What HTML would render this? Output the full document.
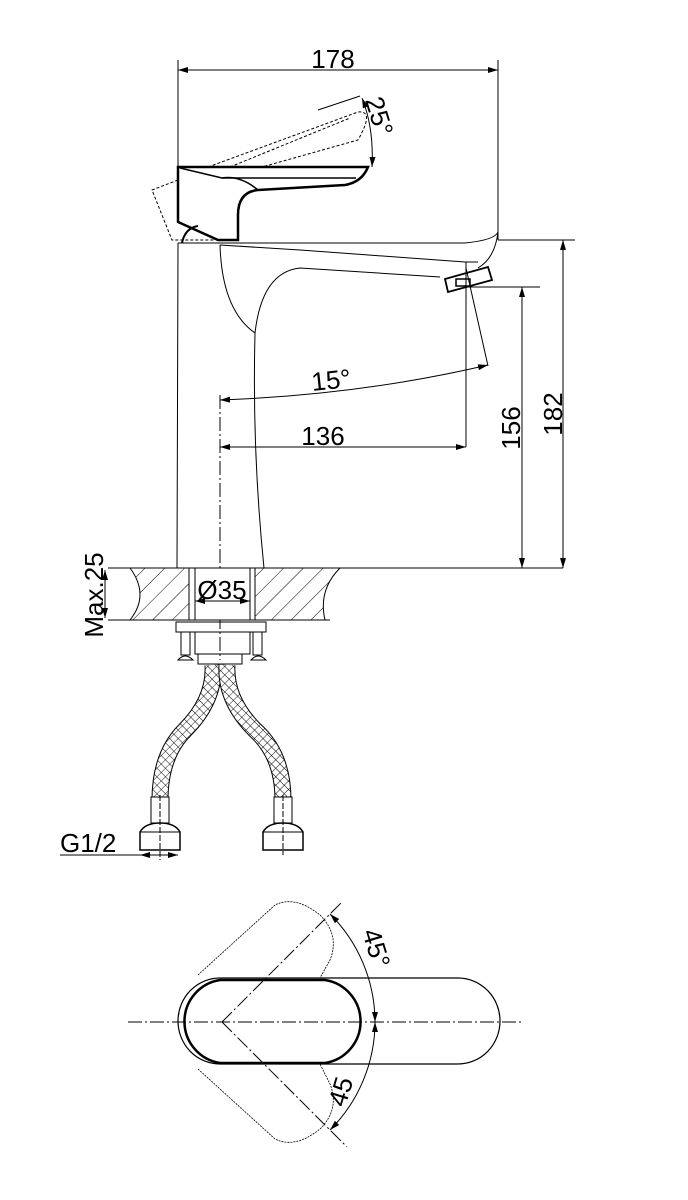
<!DOCTYPE html>
<html><head><meta charset="utf-8"><style>html,body{margin:0;padding:0;background:#fff}svg{display:block}</style></head>
<body>
<svg width="688" height="1200" viewBox="0 0 688 1200" xmlns="http://www.w3.org/2000/svg" font-family="Liberation Sans, sans-serif">
<defs>
<marker id="a" viewBox="0 0 10 6" refX="10" refY="3" markerWidth="10" markerHeight="6" orient="auto-start-reverse" markerUnits="userSpaceOnUse"><path d="M0,0 L10,3 L0,6 z" fill="#000"/></marker>
<pattern id="hatch" width="14" height="14" patternUnits="userSpaceOnUse" patternTransform="rotate(45)"><line x1="0" y1="0" x2="0" y2="14" stroke="#000" stroke-width="1"/></pattern>
<pattern id="mesh" width="6" height="6" patternUnits="userSpaceOnUse" patternTransform="rotate(45)"><rect width="6" height="6" fill="#fff"/><path d="M0,0 H6 M0,0 V6" stroke="#000" stroke-width="0.9"/></pattern>
</defs>
<g fill="none" stroke="#000" stroke-width="1">
<line x1="178" y1="60" x2="178" y2="167"/><line x1="498" y1="60" x2="498" y2="240"/>
<line x1="178" y1="70" x2="498" y2="70" marker-start="url(#a)" marker-end="url(#a)"/>
<g stroke-dasharray="3,2">
<path d="M208,167 L358,112 Q375,110 358,140 L262,167"/>
<path d="M230,167 L350,118"/>
<path d="M178,180 L152,190 L172,240 L215,240"/>
</g>
<line x1="318" y1="110" x2="360" y2="96"/>
<path d="M362,98 Q374,128 372,167" marker-start="url(#a)" marker-end="url(#a)"/>
<path d="M178,167 L368,167 Q362,182 345,185 L258,190 Q238,192 238,215 L238,240 L218,240 L178,222 Z" stroke-width="2.5"/>
<path d="M180,168 L222,178 L356,178" stroke-width="1.5"/>
<path d="M222,178 Q240,175 258,190" stroke-width="1.5"/>
<path d="M182,243 Q185,228 198,226" stroke-width="2"/>
<path d="M178,243 L465,243 Q495,240 498,232 Q495,258 478,268"/>
<path d="M220,245 L300,250 L465,262 L478,262"/>
<path d="M178,243 L177,568"/>
<path d="M220,245 Q222,310 255,333 Q252,450 264,568"/>
<path d="M255,333 Q262,272 300,268 L440,277"/>
<path d="M445,279 L488,267 L492,280 L448,292 Z" stroke-width="1.8"/>
<rect x="456" y="279" width="14" height="7" stroke-width="1.5"/>
<line x1="466" y1="262" x2="466" y2="447"/>
<line x1="466" y1="287" x2="540" y2="287"/>
<line x1="466" y1="268" x2="488" y2="366"/>
<line x1="498" y1="240" x2="575" y2="240"/>
<path d="M220,400 Q360,395 488,365" marker-start="url(#a)" marker-end="url(#a)"/>
<line x1="220" y1="447" x2="466" y2="447" marker-start="url(#a)" marker-end="url(#a)"/>
<line x1="220" y1="395" x2="220" y2="660" stroke-dasharray="14,3,2,3"/>
<line x1="522" y1="287" x2="522" y2="568" marker-start="url(#a)" marker-end="url(#a)"/>
<line x1="563" y1="240" x2="563" y2="568" marker-start="url(#a)" marker-end="url(#a)"/>
<path d="M130,568 L340,568 Q318,590 325,620 L130,620 Q150,595 130,568 Z" fill="url(#hatch)"/>
<rect x="189" y="568" width="66" height="52" fill="#fff"/>
<line x1="189" y1="568" x2="189" y2="620"/><line x1="255" y1="568" x2="255" y2="620"/>
<line x1="195" y1="568" x2="195" y2="620"/><line x1="250" y1="568" x2="250" y2="620"/>
<line x1="108" y1="568" x2="563" y2="568"/>
<line x1="108" y1="620" x2="330" y2="620"/>
<line x1="105" y1="570" x2="105" y2="618" marker-start="url(#a)" marker-end="url(#a)"/>
<line x1="195" y1="601" x2="250" y2="601" marker-start="url(#a)" marker-end="url(#a)"/>
<rect x="176" y="622" width="90" height="10"/>
<rect x="181" y="632" width="9" height="23"/><rect x="253" y="632" width="9" height="23"/>
<path d="M178,660 Q185,652 193,660 Z"/><path d="M251,660 Q258,652 266,660 Z"/>
<rect x="195" y="632" width="55" height="22"/>
<rect x="198" y="654" width="44" height="10"/>
<path d="M213,665 Q215,700 185,730 Q160,755 160,800" stroke="#000" stroke-width="17"/>
<path d="M213,665 Q215,700 185,730 Q160,755 160,800" stroke="url(#mesh)" stroke-width="15"/>
<path d="M227,665 Q225,700 255,730 Q283,755 283,800" stroke="#000" stroke-width="17"/>
<path d="M227,665 Q225,700 255,730 Q283,755 283,800" stroke="url(#mesh)" stroke-width="15"/>
<rect x="151" y="797" width="18" height="26" fill="#fff"/><rect x="274" y="797" width="18" height="26" fill="#fff"/>
<path d="M140,832 Q145,823 160,823 Q175,823 180,832 L180,850 L140,850 Z" stroke-width="1.5"/>
<path d="M263,832 Q268,823 283,823 Q298,823 303,832 L303,850 L263,850 Z" stroke-width="1.5"/>
<line x1="140" y1="832" x2="180" y2="832"/><line x1="263" y1="832" x2="303" y2="832"/>
<line x1="160" y1="795" x2="160" y2="860" stroke-dasharray="6,2"/>
<line x1="283" y1="795" x2="283" y2="855" stroke-dasharray="6,2"/>
<line x1="60" y1="855" x2="140" y2="855"/>
<line x1="140" y1="855" x2="178" y2="855" marker-start="url(#a)" marker-end="url(#a)"/>
<line x1="128" y1="1022" x2="522" y2="1022" stroke-dasharray="14,3,2,3"/>
<path d="M220,978 L458,978 A42,43 0 0 1 458,1064 L220,1064 A42,43 0 0 1 220,978 Z" stroke-width="1.2"/>
<path d="M220,980 L325,980 A42,42 0 0 1 325,1063 L220,1063 A42,42 0 0 1 220,980 Z" stroke-width="2.5"/>
<path d="M198,975 L275,905 Q295,895 320,915 Q340,935 330,960 L320,978" stroke-width="0.8" stroke-dasharray="2,1"/>
<path d="M198,1069 L275,1139 Q295,1149 320,1129 Q340,1109 330,1084 L320,1064" stroke-width="0.8" stroke-dasharray="2,1"/>
<line x1="222" y1="1022" x2="342" y2="902" stroke-dasharray="14,3,2,3"/>
<line x1="222" y1="1022" x2="347" y2="1147" stroke-dasharray="14,3,2,3"/>
<path d="M330,914 A153,153 0 0 1 375,1022" marker-start="url(#a)" marker-end="url(#a)"/>
<path d="M375,1022 A153,153 0 0 1 330,1130" marker-start="url(#a)" marker-end="url(#a)"/>
</g>
<g font-size="26" fill="#000">
<text x="333" y="68" text-anchor="middle">178</text>
<text transform="translate(365,100) rotate(73)">25°</text>
<text x="332" y="389" text-anchor="middle" transform="rotate(-6 332 389)">15°</text>
<text x="323" y="445" text-anchor="middle">136</text>
<text transform="translate(520,428) rotate(-90)" text-anchor="middle">156</text>
<text transform="translate(562,414) rotate(-90)" text-anchor="middle">182</text>
<text transform="translate(103,595) rotate(-90)" text-anchor="middle">Max.25</text>
<text x="222" y="599" text-anchor="middle">Ø35</text>
<text x="60" y="852">G1/2</text>
<text transform="translate(362,932) rotate(73)">45°</text>
<text transform="translate(345,1108) rotate(-73)">45</text>
</g>
</svg>
</body></html>
